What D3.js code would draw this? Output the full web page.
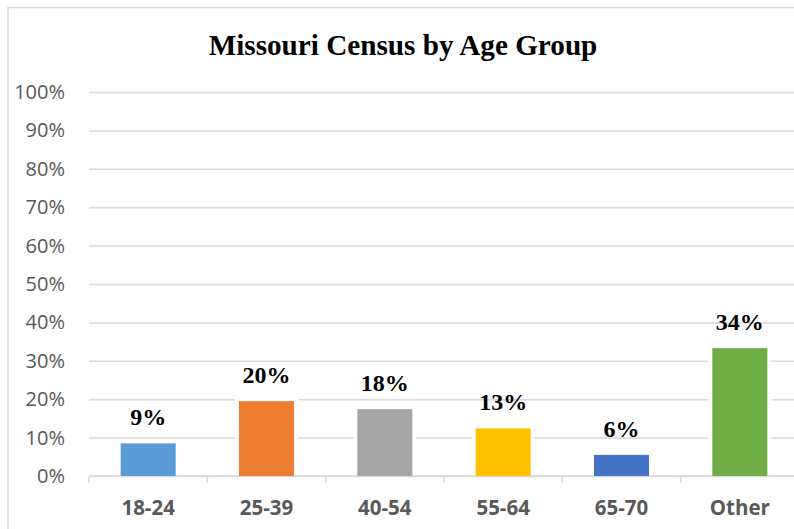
<!DOCTYPE html>
<meta charset="utf-8">
<title>Missouri Census by Age Group</title>
<script src="https://d3js.org/d3.v7.min.js"></script>
<style>
body { margin: 0; background: #fff; }
</style>
<div id="chart"></div>
<script>
// data
const groups = ["18-24", "25-39", "40-54", "55-64", "65-70", "Other"];
const shares = [8.5, 19.5, 17.4, 12.4, 5.5, 33.3];
const labels = ["9%", "20%", "18%", "13%", "6%", "34%"];
const colors = ["#5B9BD5", "#ED7D31", "#A5A5A5", "#FFC000", "#4472C4", "#70AD47"];
const yTicks = [0, 10, 20, 30, 40, 50, 60, 70, 80, 90, 100];

const W = 794, H = 529;
const plot = {left: 89, right: 799, top: 92, bottom: 476};

const svg = d3.select("#chart").append("svg")
    .attr("width", W).attr("height", H);

// chart area border (cut off at right / bottom like the picture)
svg.append("rect")
    .attr("x", 8).attr("y", 7.5)
    .attr("width", 791).attr("height", 540)
    .attr("fill", "#fff")
    .attr("stroke", "#d9d9d9").attr("stroke-width", 1.5);

const x = d3.scaleBand()
    .domain(groups)
    .range([plot.left, plot.right])
    .paddingInner(0.535)
    .paddingOuter(0.2675);

const y = d3.scaleLinear()
    .domain([0, 100])
    .range([plot.bottom, plot.top]);

// gridlines + y labels
const yAxis = svg.append("g")
    .attr("transform", `translate(${plot.left},0)`)
    .call(d3.axisLeft(y).tickValues(yTicks)
        .tickSize(-(W - plot.left))
        .tickPadding(24)
        .tickFormat(d => d + "%"));
yAxis.select(".domain").remove();
yAxis.selectAll(".tick line").attr("stroke", "#d9d9d9").attr("stroke-width", 1.5);
yAxis.selectAll(".tick text")
    .attr("fill", "#595959")
    .style("font-family", "'Open Sans', sans-serif")
    .style("font-size", "20px");

// x axis with category ticks between bars
const xAxis = svg.append("g")
    .attr("transform", `translate(0,${plot.bottom})`);
xAxis.append("line")
    .attr("x1", plot.left).attr("x2", plot.right)
    .attr("stroke", "#d9d9d9").attr("stroke-width", 1.5);
xAxis.selectAll("line.cat")
    .data(groups.concat(["end"]))
    .join("line")
    .attr("class", "cat")
    .attr("x1", (d, i) => plot.left + i * x.step())
    .attr("x2", (d, i) => plot.left + i * x.step())
    .attr("y1", 0).attr("y2", 7)
    .attr("stroke", "#d9d9d9").attr("stroke-width", 1.5);
xAxis.selectAll("text")
    .data(groups)
    .join("text")
    .attr("x", d => x(d) + x.bandwidth() / 2)
    .attr("y", 38.5)
    .attr("text-anchor", "middle")
    .attr("fill", "#595959")
    .style("font-family", "'Open Sans', sans-serif")
    .style("font-weight", "bold")
    .style("font-size", "20.5px")
    .text(d => d);

// bars with a white edge, like Excel
const bars = svg.append("g");
bars.selectAll("rect.edge")
    .data(shares)
    .join("rect")
    .attr("class", "edge")
    .attr("x", (d, i) => x(groups[i]) - 4)
    .attr("y", d => y(d) - 4)
    .attr("width", x.bandwidth() + 8)
    .attr("height", d => y(0) - y(d) + 3)
    .attr("fill", "#fff");
bars.selectAll("rect.bar")
    .data(shares)
    .join("rect")
    .attr("class", "bar")
    .attr("x", (d, i) => x(groups[i]))
    .attr("y", d => y(d))
    .attr("width", x.bandwidth())
    .attr("height", d => y(0) - y(d))
    .attr("fill", (d, i) => colors[i]);

// data labels
svg.append("g").selectAll("text")
    .data(shares)
    .join("text")
    .attr("x", (d, i) => x(groups[i]) + x.bandwidth() / 2)
    .attr("y", d => y(d) - 18)
    .attr("text-anchor", "middle")
    .style("font-family", "'Liberation Serif', 'Times New Roman', serif")
    .style("font-weight", "bold")
    .style("font-size", "24px")
    .text((d, i) => labels[i]);

// title
svg.append("text")
    .attr("x", 403)
    .attr("y", 55)
    .attr("text-anchor", "middle")
    .style("font-family", "'Liberation Serif', 'Times New Roman', serif")
    .style("font-weight", "bold")
    .style("font-size", "29.2px")
    .text("Missouri Census by Age Group");
</script>
